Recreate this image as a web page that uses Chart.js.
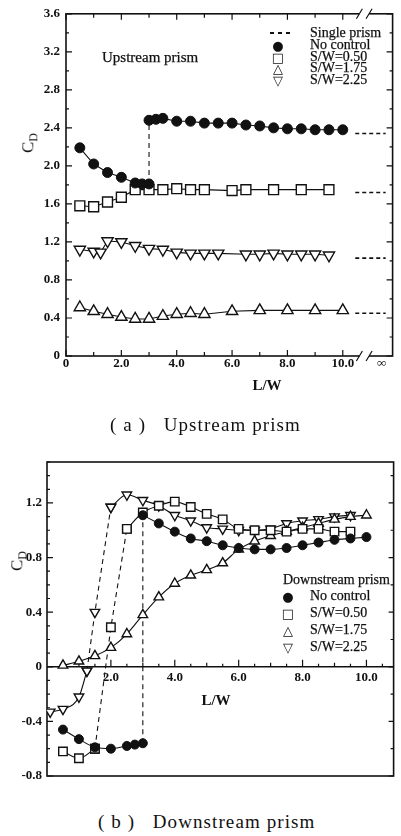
<!DOCTYPE html>
<html>
<head>
<meta charset="utf-8">
<script src="https://cdn.jsdelivr.net/npm/chart.js@4.4.1/dist/chart.umd.min.js"></script>
<style>
  body { margin: 0; background: #fff; }
  #page { position: relative; width: 401px; height: 836px; overflow: hidden; font-family: "Liberation Serif", "DejaVu Serif", serif; color: #111; }
  canvas { position: absolute; left: 0; }
  #chartA { top: 0; }
  #chartB { top: 440px; }
  .lbl { position: absolute; white-space: nowrap; font-size: 14px; line-height: 14px; -webkit-text-stroke: 0.25px #111; }
  .sym { position: absolute; font-family: "DejaVu Sans", sans-serif; font-size: 13px; line-height: 13px; transform: translate(-50%, -50%); }
  .dash { position: absolute; height: 2px; background: repeating-linear-gradient(90deg, #111 0 4px, transparent 4px 8px); }
  .cd { position: absolute; font-size: 17px; line-height: 17px; white-space: nowrap; transform: translate(-50%, -50%) rotate(-90deg); }
  .cd sub { font-size: 12px; }
  .axt { position: absolute; font-size: 15px; line-height: 15px; font-weight: bold; transform: translate(-50%, -50%); }
  .cap { position: absolute; font-size: 19px; line-height: 19px; letter-spacing: 1.1px; white-space: nowrap; }
</style>
</head>
<body>
<div id="page">
  <canvas id="chartA" width="401" height="380"></canvas>
  <canvas id="chartB" width="401" height="360"></canvas>

  <!-- (a) labels -->
  <div class="lbl" style="left:102px; top:50px; font-size:15px;">Upstream prism</div>
  <div class="dash" style="left:270px; top:32px; width:24px;"></div>
  <div class="lbl" style="left:310px; top:26px;">Single prism</div>
  <div class="sym" style="left:278px; top:45px;">●</div>
  <div class="lbl" style="left:310px; top:38px;">No control</div>
  <div class="sym" style="left:278px; top:57px;">□</div>
  <div class="lbl" style="left:310px; top:50px;">S/W=0.50</div>
  <div class="sym" style="left:278px; top:68px;">△</div>
  <div class="lbl" style="left:310px; top:61px;">S/W=1.75</div>
  <div class="sym" style="left:278px; top:80px;">▽</div>
  <div class="lbl" style="left:310px; top:73px;">S/W=2.25</div>
  <div class="cd" style="left:31px; top:143px;">C<sub>D</sub></div>
  <div class="axt" style="left:267px; top:385px;">L/W</div>
  <div class="cap" style="left:110px; top:415px;">( a )&nbsp;&nbsp;&nbsp;Upstream prism</div>

  <!-- (b) labels -->
  <div class="lbl" style="left:283px; top:573px;">Downstream prism</div>
  <div class="sym" style="left:288px; top:596px;">●</div>
  <div class="lbl" style="left:310px; top:589px;">No control</div>
  <div class="sym" style="left:288px; top:613px;">□</div>
  <div class="lbl" style="left:310px; top:606px;">S/W=0.50</div>
  <div class="sym" style="left:288px; top:630px;">△</div>
  <div class="lbl" style="left:310px; top:623px;">S/W=1.75</div>
  <div class="sym" style="left:288px; top:647px;">▽</div>
  <div class="lbl" style="left:310px; top:640px;">S/W=2.25</div>
  <div class="cd" style="left:20px; top:561px;">C<sub>D</sub></div>
  <div class="axt" style="left:216px; top:700px;">L/W</div>
  <div class="cap" style="left:98px; top:812px;">( b )&nbsp;&nbsp;&nbsp;Downstream prism</div>
</div>

<script>
const ink = '#111';

// ---- (a) upstream prism ----
const upXTicks = [0, 2, 4, 6, 8, 10];
const upYTicks = [0, 0.4, 0.8, 1.2, 1.6, 2.0, 2.4, 2.8, 3.2, 3.6];
const INF_POS = 11.4;            // where the "infinity" column sits on the x scale
const breakAt = [10.6, 10.95];   // axis break between 10 and infinity

const upNoCtrlLowX = [0.5, 1.0, 1.5, 2.0, 2.5, 2.75, 3.0];
const upNoCtrlLowY = [2.19, 2.02, 1.93, 1.88, 1.82, 1.81, 1.81];
const upNoCtrlHighX = [3.0, 3.25, 3.5, 4.0, 4.5, 5.0, 5.5, 6.0, 6.5, 7.0, 7.5, 8.0, 8.5, 9.0, 9.5, 10.0];
const upNoCtrlHighY = [2.48, 2.49, 2.50, 2.47, 2.47, 2.45, 2.45, 2.45, 2.43, 2.42, 2.40, 2.39, 2.39, 2.38, 2.38, 2.38];

const upSW050X = [0.5, 1.0, 1.5, 2.0, 2.5, 3.0, 3.5, 4.0, 4.5, 5.0, 6.0, 6.5, 7.5, 8.5, 9.5];
const upSW050Y = [1.58, 1.57, 1.62, 1.67, 1.75, 1.75, 1.75, 1.76, 1.75, 1.75, 1.74, 1.75, 1.75, 1.75, 1.75];

const upSW175X = [0.5, 1.0, 1.5, 2.0, 2.5, 3.0, 3.5, 4.0, 4.5, 5.0, 6.0, 7.0, 8.0, 9.0, 10.0];
const upSW175Y = [0.51, 0.47, 0.44, 0.41, 0.39, 0.39, 0.42, 0.44, 0.45, 0.44, 0.47, 0.48, 0.48, 0.48, 0.48];

const upSW225X = [0.5, 1.0, 1.25, 1.5, 2.0, 2.5, 3.0, 3.5, 4.0, 4.5, 5.0, 5.5, 6.5, 7.0, 7.5, 8.0, 8.5, 9.0, 9.5];
const upSW225Y = [1.12, 1.10, 1.09, 1.21, 1.20, 1.16, 1.13, 1.12, 1.09, 1.08, 1.08, 1.08, 1.07, 1.07, 1.08, 1.07, 1.07, 1.07, 1.06];

const upSingleY = [2.34, 1.72, 1.03, 0.45];   // single prism values (at L/W = infinity)
const singleSpan = [10.45, 11.55];

// ---- (b) downstream prism ----
const dnXTicks = [2, 4, 6, 8, 10];
const dnYTicks = [-0.8, -0.4, 0, 0.4, 0.8, 1.2];

const dnNoCtrlLowX = [0.5, 1.0, 1.5, 2.0, 2.5, 2.75, 3.0];
const dnNoCtrlLowY = [-0.46, -0.53, -0.59, -0.60, -0.58, -0.57, -0.56];
const dnNoCtrlHighX = [3.0, 3.5, 4.0, 4.5, 5.0, 5.5, 6.0, 6.5, 7.0, 7.5, 8.0, 8.5, 9.0, 9.5, 10.0];
const dnNoCtrlHighY = [1.11, 1.05, 0.99, 0.94, 0.92, 0.89, 0.87, 0.86, 0.86, 0.87, 0.89, 0.91, 0.93, 0.94, 0.95];

const dnSW050LowX = [0.5, 1.0, 1.5];
const dnSW050LowY = [-0.62, -0.67, -0.60];
const dnSW050JumpX = [1.5, 2.0, 2.5];
const dnSW050JumpY = [-0.60, 0.29, 1.01];
const dnSW050HighX = [2.5, 3.0, 3.5, 4.0, 4.5, 5.0, 5.5, 6.0, 6.5, 7.0, 7.5, 8.0, 8.5, 9.0, 9.5];
const dnSW050HighY = [1.01, 1.13, 1.18, 1.21, 1.17, 1.12, 1.08, 1.01, 1.00, 1.00, 0.99, 1.01, 1.01, 0.99, 0.99];

const dnSW175X = [0.5, 1.0, 1.5, 2.0, 2.5, 3.0, 3.5, 4.0, 4.5, 5.0, 5.5, 6.0, 6.5, 7.0, 7.5, 8.0, 8.5, 9.0, 9.5, 10.0];
const dnSW175Y = [0.01, 0.04, 0.08, 0.14, 0.24, 0.38, 0.51, 0.61, 0.67, 0.71, 0.76, 0.86, 0.92, 0.96, 0.99, 1.02, 1.05, 1.08, 1.10, 1.11];

const dnSW225LowX = [0.1, 0.5, 1.0, 1.25];
const dnSW225LowY = [-0.33, -0.31, -0.22, -0.03];
const dnSW225JumpX = [1.25, 1.5, 2.0];
const dnSW225JumpY = [-0.03, 0.40, 1.17];
const dnSW225HighX = [2.0, 2.5, 3.0, 3.5, 4.0, 4.5, 5.0, 5.5, 6.0, 6.5, 7.0, 7.5, 8.0, 8.5, 9.0, 9.5];
const dnSW225HighY = [1.17, 1.26, 1.22, 1.18, 1.11, 1.07, 1.02, 1.01, 1.00, 1.00, 1.01, 1.05, 1.07, 1.08, 1.10, 1.11];

function pts(xs, ys) {
    return xs.map((x, i) => ({x: x, y: ys[i]}));
}

// marker styles
function filled(r) {
    return {pointStyle: 'circle', pointRadius: r, pointBackgroundColor: ink, pointBorderColor: ink, pointBorderWidth: 1};
}
function open(shape, r, rot) {
    return {pointStyle: shape, pointRadius: r, pointRotation: rot || 0, pointBackgroundColor: '#fff', pointBorderColor: ink, pointBorderWidth: 1.4};
}
function solid(data, marker, tension) {
    return Object.assign({data: data, borderColor: ink, borderWidth: 1.1, tension: tension || 0, cubicInterpolationMode: tension ? 'monotone' : 'default', order: 0}, marker);
}
function dashed(data, marker) {
    return Object.assign({data: data, borderColor: ink, borderWidth: 1.1, borderDash: [5, 4], pointRadius: 0, order: 5}, marker || {});
}

const tickFont = {family: 'Liberation Serif', size: 13, weight: 'bold'};

// axes frame + inward ticks for (a)
const upAxes = {
    id: 'upAxes',
    beforeDatasetsDraw(chart) {
        const {ctx, chartArea: a, scales: {x, y}} = chart;
        ctx.save();
        ctx.strokeStyle = ink;
        ctx.lineWidth = 1.6;
        ctx.strokeRect(a.left, a.top, a.right - a.left, a.bottom - a.top);
        ctx.lineWidth = 1.2;
        ctx.beginPath();
        for (let v = 0; v <= 10; v++) {
            const px = x.getPixelForValue(v), len = v % 2 === 0 ? 6 : 4;
            ctx.moveTo(px, a.bottom); ctx.lineTo(px, a.bottom - len);
            ctx.moveTo(px, a.top); ctx.lineTo(px, a.top + len);
        }
        for (let k = 0; k <= 18; k++) {
            const py = y.getPixelForValue(k * 0.2), len = k % 2 === 0 ? 6 : 3;
            ctx.moveTo(a.left, py); ctx.lineTo(a.left + len, py);
            ctx.moveTo(a.right, py); ctx.lineTo(a.right - len, py);
        }
        ctx.stroke();
        // break marks
        const b0 = x.getPixelForValue(breakAt[0]), b1 = x.getPixelForValue(breakAt[1]);
        ctx.fillStyle = '#fff';
        [a.top, a.bottom].forEach(yy => ctx.fillRect(b0, yy - 2, b1 - b0, 4));
        ctx.beginPath();
        [a.top, a.bottom].forEach(yy => {
            [b0, b1].forEach(bx => { ctx.moveTo(bx - 3, yy + 5); ctx.lineTo(bx + 3, yy - 5); });
        });
        ctx.stroke();
        ctx.restore();
    }
};

// axes frame + inward ticks for (b), x axis sits on CD = 0
const downAxes = {
    id: 'downAxes',
    beforeDatasetsDraw(chart) {
        const {ctx, chartArea: a, scales: {x, y}} = chart;
        const y0 = y.getPixelForValue(0);
        ctx.save();
        ctx.strokeStyle = ink;
        ctx.lineWidth = 1.6;
        ctx.strokeRect(a.left, a.top, a.right - a.left, a.bottom - a.top);
        ctx.beginPath(); ctx.moveTo(a.left, y0); ctx.lineTo(a.right, y0); ctx.stroke();
        ctx.lineWidth = 1.2;
        ctx.beginPath();
        for (let k = 1; k <= 21; k++) {
            const v = k * 0.5, px = x.getPixelForValue(v);
            const len = v % 2 === 0 ? 7 : (k % 2 === 0 ? 4 : 3);
            ctx.moveTo(px, y0); ctx.lineTo(px, y0 - len);
        }
        for (let k = -8; k <= 15; k++) {
            const py = y.getPixelForValue(k / 10), len = k % 4 === 0 ? 6 : 3;
            ctx.moveTo(a.left, py); ctx.lineTo(a.left + len, py);
        }
        for (let k = -4; k <= 7; k++) {
            const py = y.getPixelForValue(k / 5), len = k % 2 === 0 ? 5 : 3;
            ctx.moveTo(a.right, py); ctx.lineTo(a.right - len, py);
        }
        ctx.stroke();
        ctx.restore();
    }
};

const upDatasets = [
    solid(pts(upNoCtrlLowX, upNoCtrlLowY), filled(5)),
    solid(pts(upNoCtrlHighX, upNoCtrlHighY), filled(5)),
    dashed([{x: 3.0, y: upNoCtrlLowY[upNoCtrlLowY.length - 1]}, {x: 3.0, y: upNoCtrlHighY[0]}]),
    solid(pts(upSW050X, upSW050Y), open('rect', 7)),
    solid(pts(upSW175X, upSW175Y), open('triangle', 6.5)),
    solid(pts(upSW225X, upSW225Y), open('triangle', 6.5, 180))
];
upSingleY.forEach(v => {
    upDatasets.push({data: [{x: singleSpan[0], y: v}, {x: singleSpan[1], y: v}], borderColor: ink, borderWidth: 1.6, borderDash: [4, 3], pointRadius: 0, order: 5});
});

new Chart(document.getElementById('chartA'), {
    type: 'line',
    data: {datasets: upDatasets},
    options: {
        responsive: false,
        animation: false,
        events: [],
        layout: {padding: {top: 12, right: 2, left: 0, bottom: 0}},
        plugins: {legend: {display: false}, tooltip: {enabled: false}},
        scales: {
            x: {
                type: 'linear', min: 0, max: 11.8,
                grid: {display: false, drawTicks: false},
                border: {display: false},
                afterBuildTicks: s => { s.ticks = upXTicks.concat([INF_POS]).map(v => ({value: v})); },
                ticks: {
                    autoSkip: false, maxRotation: 0, padding: 0, color: ink, font: tickFont,
                    callback: v => v === INF_POS ? '∞' : (v === 0 ? '0' : v.toFixed(1))
                },
                afterFit: s => { s.height = 24; }
            },
            y: {
                type: 'linear', min: 0, max: 3.6,
                grid: {display: false, drawTicks: false},
                border: {display: false},
                afterBuildTicks: s => { s.ticks = upYTicks.map(v => ({value: v})); },
                ticks: {
                    autoSkip: false, padding: 6, color: ink, font: tickFont,
                    callback: v => v === 0 ? '0' : v.toFixed(1)
                },
                afterFit: s => { s.width = 66; }
            }
        }
    },
    plugins: [upAxes]
});

const dnDatasets = [
    solid(pts(dnNoCtrlLowX, dnNoCtrlLowY), filled(4.5), 0.4),
    solid(pts(dnNoCtrlHighX, dnNoCtrlHighY), filled(4.5), 0.4),
    dashed([{x: 3.0, y: dnNoCtrlLowY[dnNoCtrlLowY.length - 1]}, {x: 3.0, y: dnNoCtrlHighY[0]}]),
    solid(pts(dnSW050LowX, dnSW050LowY), open('rect', 6), 0.4),
    dashed(pts(dnSW050JumpX, dnSW050JumpY), open('rect', 6)),
    solid(pts(dnSW050HighX, dnSW050HighY), open('rect', 6), 0.4),
    solid(pts(dnSW175X, dnSW175Y), open('triangle', 5.5), 0.4),
    solid(pts(dnSW225LowX, dnSW225LowY), open('triangle', 5.5, 180), 0.4),
    dashed(pts(dnSW225JumpX, dnSW225JumpY), open('triangle', 5.5, 180)),
    solid(pts(dnSW225HighX, dnSW225HighY), open('triangle', 5.5, 180), 0.4)
];

new Chart(document.getElementById('chartB'), {
    type: 'line',
    data: {datasets: dnDatasets},
    options: {
        responsive: false,
        animation: false,
        events: [],
        layout: {padding: {top: 22, right: 1, left: 0, bottom: 24}},
        plugins: {legend: {display: false}, tooltip: {enabled: false}},
        scales: {
            x: {
                type: 'linear', min: 0, max: 10.85,
                position: {y: 0},
                grid: {display: false, drawTicks: false},
                border: {display: false},
                afterBuildTicks: s => { s.ticks = dnXTicks.map(v => ({value: v})); },
                ticks: {
                    autoSkip: false, maxRotation: 0, padding: 3, color: ink, font: tickFont,
                    callback: v => v.toFixed(1)
                }
            },
            y: {
                type: 'linear', min: -0.8, max: 1.5,
                grid: {display: false, drawTicks: false},
                border: {display: false},
                afterBuildTicks: s => { s.ticks = dnYTicks.map(v => ({value: v})); },
                ticks: {
                    autoSkip: false, padding: 5, color: ink, font: tickFont,
                    callback: v => v === 0 ? '0' : v.toFixed(1)
                },
                afterFit: s => { s.width = 47; }
            }
        }
    },
    plugins: [downAxes]
});
</script>
</body>
</html>
